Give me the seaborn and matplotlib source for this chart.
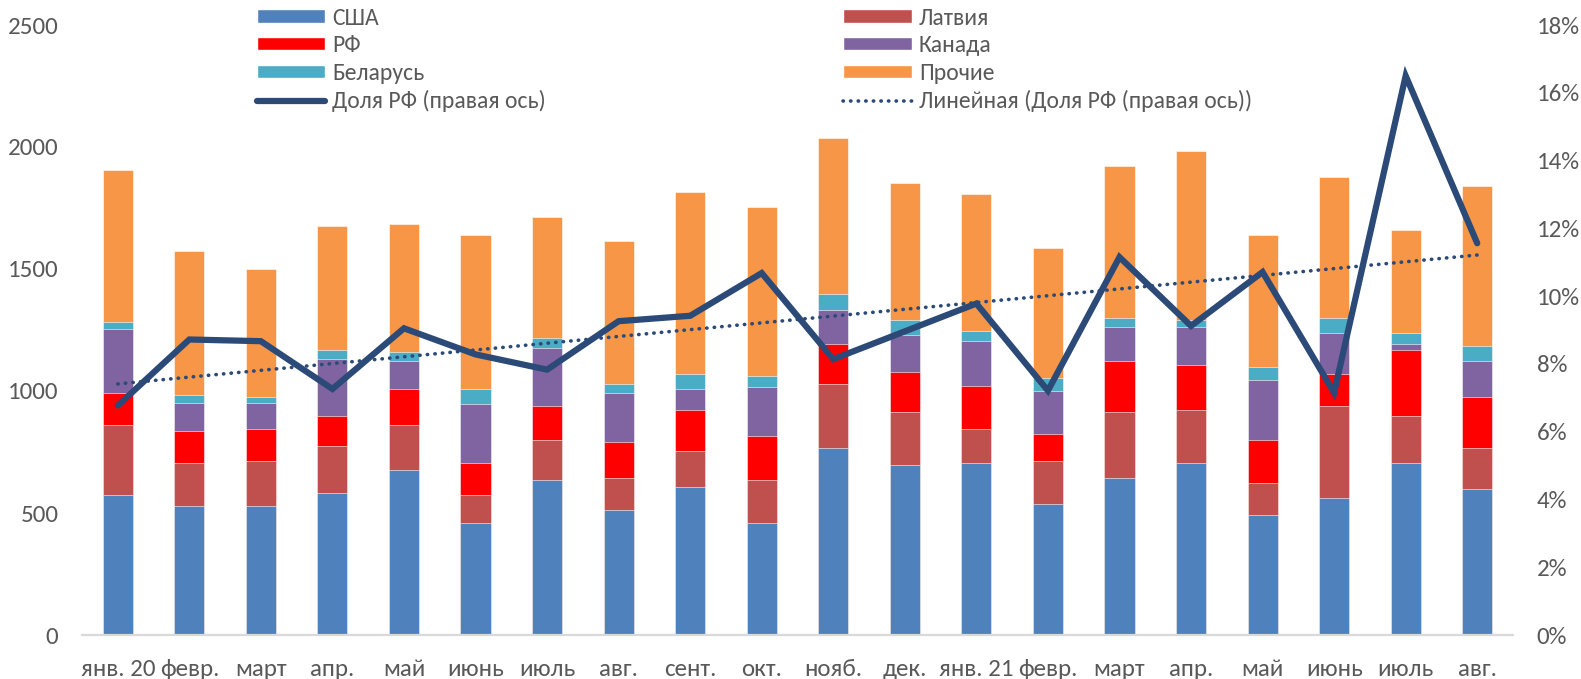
import numpy as np
import pandas as pd
import matplotlib
matplotlib.use("Agg")
import matplotlib.pyplot as plt
from matplotlib.patches import Patch
from matplotlib.lines import Line2D
import seaborn as sns

months = ["янв. 20", "февр.", "март", "апр.", "май", "июнь", "июль", "авг.", "сент.", "окт.",
          "нояб.", "дек.", "янв. 21", "февр.", "март", "апр.", "май", "июнь", "июль", "авг."]
usa     = [574, 528, 528, 581, 675, 458, 634, 511, 607, 458, 766, 695, 703, 536, 643, 703, 493, 563, 703, 598]
latvia  = [288, 178, 185, 194, 187, 116, 166, 132, 147, 176, 263, 220, 142, 177, 270, 220, 131, 376, 195, 168]
rf      = [129, 129, 131, 122, 147, 129, 138, 146, 167, 182, 164, 164, 175, 112, 210, 185, 174, 131, 270, 208]
canada  = [262, 115, 106, 233, 112, 245, 238, 202, 88, 202, 139, 152, 183, 173, 139, 154, 246, 167, 25, 149]
belarus = [29, 33, 26, 38, 37, 61, 42, 36, 61, 44, 64, 60, 43, 54, 37, 28, 53, 62, 44, 62]
other   = [624, 589, 525, 509, 526, 631, 494, 588, 746, 694, 640, 560, 561, 535, 622, 692, 543, 578, 422, 657]
share_rf = [6.77, 8.72, 8.67, 7.26, 9.05, 8.28, 7.83, 9.26, 9.42, 10.68,
            8.14, 8.96, 9.78, 7.21, 11.15, 9.12, 10.71, 7.15, 16.5, 11.56]

series_names = ["США", "Латвия", "РФ", "Канада", "Беларусь", "Прочие"]
series_vals = [usa, latvia, rf, canada, belarus, other]
colors = ["#4F81BD", "#C0504D", "#FF0000", "#8064A2", "#4BACC6", "#F79646"]
line_color = "#2C4A77"
txt_color = "#595959"

sns.set_theme(style="white")
fam = ["Carlito", "Liberation Sans", "DejaVu Sans"]
plt.rcParams["font.family"] = fam

fig = plt.figure(figsize=(15.81, 6.79), dpi=100)
ax = fig.add_axes([82 / 1581, 44 / 679, (1513 - 82) / 1581, (635 - 25) / 679])

idx = np.arange(len(months))
cum = np.cumsum(np.array(series_vals, dtype=float), axis=0)
df = pd.DataFrame({"idx": idx})
# draw cumulative totals from top down so each lower segment overlays the one above
for k in range(len(series_vals) - 1, -1, -1):
    df["v"] = cum[k]
    sns.barplot(data=df, x="idx", y="v", color=colors[k], saturation=1, width=0.42,
                ax=ax, edgecolor="white", linewidth=0.4)

ax.set_xlim(-0.5, len(months) - 0.5)
ax.set_ylim(0, 2500)
ax.set_yticks([0, 500, 1000, 1500, 2000, 2500])
ax.set_xticks(idx)
ax.set_xticklabels(months)
ax.set_xlabel("")
ax.set_ylabel("")
for s in ["top", "right", "left"]:
    ax.spines[s].set_visible(False)
ax.spines["bottom"].set_color("#D9D9D9")
ax.spines["bottom"].set_linewidth(1.6)
ax.tick_params(axis="y", length=0, pad=17, labelsize=18, labelcolor=txt_color)
ax.tick_params(axis="x", length=0, pad=17, labelsize=18, labelcolor=txt_color)

ax2 = ax.twinx()
share_frac = np.array(share_rf) / 100.0
sns.lineplot(x=idx, y=share_frac, ax=ax2, color=line_color, linewidth=4.5,
             solid_joinstyle="miter")
coef = np.polyfit(idx, share_frac, 1)
trend = np.polyval(coef, idx)
sns.lineplot(x=idx, y=trend, ax=ax2, color=line_color, linewidth=2.6,
             linestyle=(0, (0.1, 2.0)), dash_capstyle="round")
ax2.set_ylim(0, 0.18)
ax2.set_yticks(np.arange(0, 0.181, 0.02))
ax2.set_yticklabels([f"{int(round(v * 100))}%" for v in np.arange(0, 0.181, 0.02)])
ax2.set_ylabel("")
for s in ["top", "right", "left", "bottom"]:
    ax2.spines[s].set_visible(False)
ax2.tick_params(axis="y", length=0, pad=17, labelsize=18, labelcolor=txt_color)
ax2.grid(False)
ax.grid(False)

handles = [
    Patch(facecolor=colors[0], label="США"),
    Patch(facecolor=colors[2], label="РФ"),
    Patch(facecolor=colors[4], label="Беларусь"),
    Line2D([], [], color=line_color, linewidth=4.5, solid_capstyle="round", label="Доля РФ (правая ось)"),
    Patch(facecolor=colors[1], label="Латвия"),
    Patch(facecolor=colors[3], label="Канада"),
    Patch(facecolor=colors[5], label="Прочие"),
    Line2D([], [], color=line_color, linewidth=2.6, linestyle=(0, (0.1, 2.0)),
           dash_capstyle="round", label="Линейная (Доля РФ (правая ось))"),
]
leg = fig.legend(handles=handles, ncol=2, loc="upper left",
                 bbox_to_anchor=(253 / 1581, 1.0 - 4 / 679),
                 frameon=False, fontsize=17, handlelength=2.9, handleheight=0.5,
                 handletextpad=0.3, labelspacing=0.28, columnspacing=12.6,
                 borderaxespad=0, borderpad=0.15)
for t in leg.get_texts():
    t.set_color(txt_color)

fig.savefig("out.png", dpi=100, facecolor="white")
